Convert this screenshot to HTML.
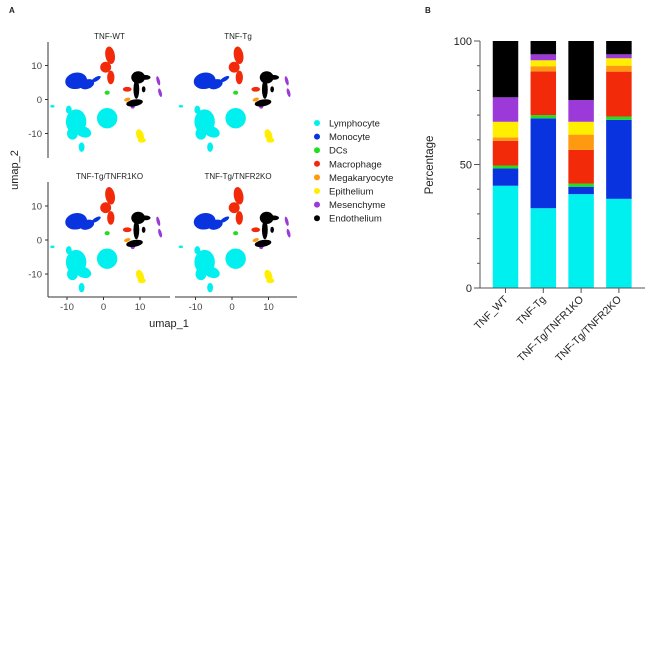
<!DOCTYPE html>
<html><head><meta charset="utf-8"><style>
body{margin:0;background:#fff;}
svg{display:block;font-family:"Liberation Sans",sans-serif;}
</style></head><body>
<svg id="fig" width="651" height="651" viewBox="0 0 651 651">
<text x="9" y="13" font-size="8" font-weight="bold" fill="#222">A</text>
<text x="425" y="13" font-size="8" font-weight="bold" fill="#222">B</text>
<g id="umap"></g>
<g id="legend"></g>
<g id="bars"></g>
</svg>
<script>
const NS="http://www.w3.org/2000/svg";
const cellTypes=["Lymphocyte","Monocyte","DCs","Macrophage","Megakaryocyte","Epithelium","Mesenchyme","Endothelium"];
const typeColors=["#00f0f0","#0a33e0","#22dd22","#f22a0a","#ff9a10","#ffee00","#9b3ad8","#000000"];
const conditions=["TNF_WT","TNF-Tg","TNF-Tg/TNFR1KO","TNF-Tg/TNFR2KO"];
const lymphocyte=[41.4,32.3,38.0,36.1];
const monocyte=[7.0,36.4,3.0,32.0];
const dcs=[1.2,1.3,1.3,1.3];
const macrophage=[10.0,17.7,13.6,18.2];
const megakaryocyte=[1.4,2.1,6.2,2.4];
const epithelium=[6.3,2.4,5.2,3.0];
const mesenchyme=[9.9,2.4,8.8,1.6];
const endothelium=[22.8,5.4,23.9,5.4];
const yTicks=[0,50,100];
const umapTitles=["TNF-WT","TNF-Tg","TNF-Tg/TNFR1KO","TNF-Tg/TNFR2KO"];
const umapTicks=[-10,0,10];
// cluster blobs in umap units: [typeIndex, cx, cy, rx, ry, rotationDeg]
const clusters=[
 [0,-7.5,-6.5,2.8,3.6,0],[0,-5.5,-9.5,2.2,1.6,20],[0,1,-5.5,2.8,3,0],[0,-6,-14,0.8,1.4,0],[0,-14,-2,0.6,0.4,0],[0,-9.5,-3,0.8,1.2,0],[0,-8.5,-10,1.5,1.8,0],
 [1,-7.5,5.5,3,2.4,-10],[1,-4.5,4.5,2,1.4,-20],[1,-2,6,1.4,0.6,-30],
 [3,1.8,13,1.3,2.6,-10],[3,0.6,9.5,1.5,1.6,0],[3,2,6.5,1,2,0],[3,6.5,3,1.2,0.7,0],
 [2,1,2,0.7,0.6,0],[4,6.5,0,0.9,0.5,-20],[4,7,-1,0.7,0.4,0],
 [5,10,-10.5,1,1.8,-20],[5,10.5,-12,1.1,0.7,0],
 [6,15,5.5,0.45,1.4,-15],[6,15.5,2,0.45,1.3,-15],[6,8,-2,0.6,0.7,0],
 [7,9.5,6.5,1.9,1.8,0],[7,11.5,6.5,1.4,0.7,0],[7,9,3,0.8,2.8,0],[7,8.5,-1,2.3,1,-10],[7,11,3,0.5,0.9,0]
];
function el(tag,attrs,parent){const e=document.createElementNS(NS,tag);for(const k in attrs)e.setAttribute(k,attrs[k]);parent.appendChild(e);return e;}

const um=document.getElementById("umap");
const panels=[{x0:103.5,y0:99.5,ax:48,top:42,bot:158},{x0:232,y0:99.5,ax:175,top:42,bot:158},{x0:103.5,y0:240,ax:48,top:182,bot:297},{x0:232,y0:240,ax:175,top:182,bot:297}];
const sx=3.65, sy=3.4;
panels.forEach((p,i)=>{
 const g=el("g",{},um);
 
 
 const t=el("text",{x:p.x0+6,y:p.top-3,"font-size":"8","text-anchor":"middle",fill:"#222"},g);t.textContent=umapTitles[i];
 
 
 clusters.forEach(c=>{
  const cx=p.x0+c[1]*sx, cy=p.y0-c[2]*sy;
  const e=el("ellipse",{cx:cx,cy:cy,rx:c[3]*sx,ry:c[4]*sy,fill:typeColors[c[0]],transform:`rotate(${c[5]} ${cx} ${cy})`},g);
  
  
 });
 if(i%2==0){
  el("line",{x1:p.ax,y1:p.top,x2:p.ax,y2:p.bot,stroke:"#333","stroke-width":"1"},g);
  umapTicks.forEach(v=>{const y=p.y0-v*sy;el("line",{x1:p.ax-3,y1:y,x2:p.ax,y2:y,stroke:"#333"},g);
   const tt=el("text",{x:p.ax-6,y:y+3.5,"font-size":"9.5","text-anchor":"end",fill:"#444"},g);tt.textContent=v;
   
   });
 }
 if(i>=2){
  el("line",{x1:p.ax,y1:p.bot,x2:p.ax+122,y2:p.bot,stroke:"#333"},g);
  umapTicks.forEach(v=>{const x=p.x0+v*sx;el("line",{x1:x,y1:p.bot,x2:x,y2:p.bot+3,stroke:"#333"},g);
   const tt=el("text",{x:x,y:p.bot+13,"font-size":"9.5","text-anchor":"middle",fill:"#444"},g);tt.textContent=v;
   
   });
 }
});
let t=el("text",{x:169,y:327,"font-size":"11","text-anchor":"middle",fill:"#222"},um);t.textContent="umap_1";


t=el("text",{x:18,y:170,"font-size":"11","text-anchor":"middle",fill:"#222",transform:"rotate(-90 18 170)"},um);t.textContent="umap_2";



const lg=document.getElementById("legend");
cellTypes.forEach((n,i)=>{const y=123+i*13.6;
 const c=el("circle",{cx:317,cy:y,r:3,fill:typeColors[i]},lg);
 
 
 const tx=el("text",{x:329,y:y+3.5,"font-size":"9.5",fill:"#222"},lg);tx.textContent=n;
 
 
});

const bg=document.getElementById("bars");
const series=[lymphocyte,monocyte,dcs,macrophage,megakaryocyte,epithelium,mesenchyme,endothelium];
const yZero=288, yTop=41, axX=480;
const yScale=v=>yZero-(v/100)*(yZero-yTop);
const xCenter=i=>505.5+i*37.8;
const bw=25.5;
conditions.forEach((c,i)=>{let acc=0;
 series.forEach((s,k)=>{const y1=yScale(acc+s[i]),y0=yScale(acc);acc+=s[i];
  const r=el("rect",{x:xCenter(i)-bw/2,y:y1,width:bw,height:y0-y1,fill:typeColors[k]},bg);
  
  
 });
 el("line",{x1:xCenter(i),y1:yZero,x2:xCenter(i),y2:yZero+5,stroke:"#555"},bg);
 const tx=el("text",{x:xCenter(i)+3,y:yZero+12,"font-size":"10.5","text-anchor":"end",fill:"#222",transform:`rotate(-45 ${xCenter(i)+3} ${yZero+12})`},bg);tx.textContent=c;
 
 
});
el("line",{x1:axX,y1:yTop,x2:axX,y2:yZero,stroke:"#555"},bg);
el("line",{x1:axX,y1:yZero,x2:645,y2:yZero,stroke:"#555"},bg);
for(let v=0;v<=100;v+=10){el("line",{x1:axX-(v%50==0?6:3),y1:yScale(v),x2:axX,y2:yScale(v),stroke:"#555"},bg);}
yTicks.forEach(v=>{const tx=el("text",{x:axX-8,y:yScale(v)+4,"font-size":"11","text-anchor":"end",fill:"#222"},bg);tx.textContent=v;
 
 });
t=el("text",{x:433,y:165,"font-size":"11.5","text-anchor":"middle",fill:"#222",transform:"rotate(-90 433 165)"},bg);t.textContent="Percentage";


</script>
</body></html>
